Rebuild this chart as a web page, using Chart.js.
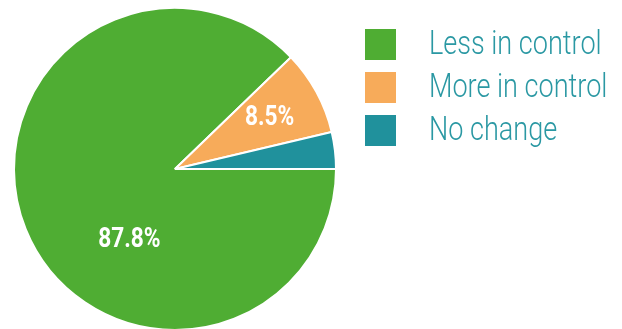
<!DOCTYPE html>
<html>
<head>
<meta charset="utf-8">
<script src="https://cdn.jsdelivr.net/npm/chart.js@4.4.0/dist/chart.umd.min.js"></script>
<style>
  html, body { margin: 0; padding: 0; background: #fff; overflow: hidden; }
  #wrap { width: 622px; height: 331px; position: relative; }
</style>
</head>
<body>
<div id="wrap"><canvas id="pieChart"></canvas></div>
<script>
// Datos del gráfico
const labels = ['Less in control', 'More in control', 'No change'];
const values = [87.8, 8.5, 3.7];
const colors = ['#4fad33', '#f7ab5a', '#20919c'];
const shownLabels = ['87.8%', '8.5%', ''];

// Posición de las etiquetas: desplazamiento de ángulo (grados) y fracción del radio
const labelAngleShift = [-35, 0, 0];
const labelRadius = [0.52, 0.67, 0.67];

// Etiquetas de porcentaje dentro de las porciones
const sliceLabels = {
    id: 'sliceLabels',
    afterDatasetsDraw(chart) {
        const ctx = chart.ctx;
        const meta = chart.getDatasetMeta(0);
        ctx.save();
        ctx.fillStyle = '#ffffff';
        ctx.font = 'bold 27px "Roboto", sans-serif';
        ctx.textAlign = 'center';
        ctx.textBaseline = 'middle';
        meta.data.forEach((arc, i) => {
            if (!shownLabels[i]) return;
            const mid = (arc.startAngle + arc.endAngle) / 2 + labelAngleShift[i] * Math.PI / 180;
            const r = arc.outerRadius * labelRadius[i];
            const x = arc.x + Math.cos(mid) * r;
            const y = arc.y + Math.sin(mid) * r;
            ctx.save();
            ctx.translate(x, y);
            ctx.scale(0.84, 1);
            ctx.fillText(shownLabels[i], 0, 1);
            ctx.restore();
        });
        ctx.restore();
    }
};

// Leyenda dibujada a la derecha
const sideLegend = {
    id: 'sideLegend',
    afterDraw(chart) {
        const ctx = chart.ctx;
        ctx.save();
        ctx.font = '300 33px "Roboto", sans-serif';
        ctx.textBaseline = 'middle';
        ctx.textAlign = 'left';
        labels.forEach((label, i) => {
            const cy = 44.5 + i * 43;
            ctx.fillStyle = colors[i];
            ctx.fillRect(365, cy - 15.5, 31, 31);
            ctx.fillStyle = '#2a98a3';
            ctx.save();
            ctx.translate(429, cy + 1);
            ctx.scale(0.82, 1);
            ctx.fillText(label, 0, 0);
            ctx.restore();
        });
        ctx.restore();
    }
};

const ctx = document.getElementById('pieChart').getContext('2d');
const pieChartInstance = new Chart(ctx, {
    type: 'pie',
    data: {
        labels: labels,
        datasets: [{
            data: values,
            backgroundColor: colors,
            borderColor: '#ffffff',
            borderWidth: 2
        }]
    },
    options: {
        responsive: true,
        maintainAspectRatio: false,
        animation: false,
        rotation: 90,
        layout: {
            padding: { left: 13, right: 285, top: 7, bottom: 0 }
        },
        plugins: {
            legend: { display: false },
            tooltip: { enabled: false }
        }
    },
    plugins: [sliceLabels, sideLegend]
});
</script>
</body>
</html>
